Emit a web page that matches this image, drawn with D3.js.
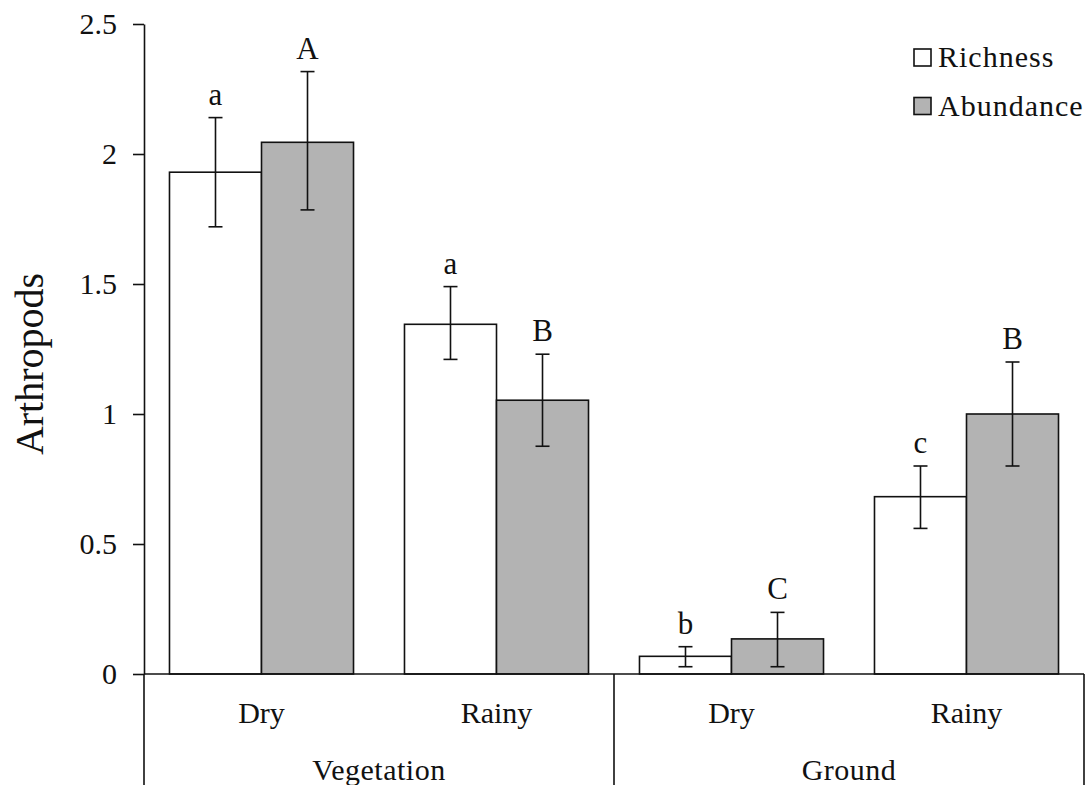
<!DOCTYPE html>
<html>
<head>
<meta charset="utf-8">
<script src="https://cdn.jsdelivr.net/npm/d3@7"></script>
<style>
  body { margin: 0; background: #fff; }
  svg { display: block; }
  svg text { font-family: "Liberation Serif", "Times New Roman", serif; }
</style>
</head>
<body>
<svg id="chart" width="1088" height="785"></svg>
<script>
// DATA
const groups = ["Vegetation", "Ground"];
const categories = ["Dry", "Rainy", "Dry", "Rainy"];
const categoryGroup = ["Vegetation", "Vegetation", "Ground", "Ground"];
const series = ["Richness", "Abundance"];

const richness = [1.93, 1.345, 0.068, 0.682];
const richnessHigh = [2.14, 1.49, 0.105, 0.80];
const richnessLow = [1.72, 1.21, 0.028, 0.56];
const richnessLetters = ["a", "a", "b", "c"];

const abundance = [2.045, 1.053, 0.135, 1.0];
const abundanceHigh = [2.317, 1.23, 0.237, 1.2];
const abundanceLow = [1.785, 0.876, 0.028, 0.80];
const abundanceLetters = ["A", "B", "C", "B"];

const yTicks = [0, 0.5, 1, 1.5, 2, 2.5];
const yTitle = "Arthropods";

// LAYOUT
const plotLeft = 144, plotRight = 1084, plotTop = 24, plotBottom = 674, frameBottom = 785;
const fills = { Richness: "#ffffff", Abundance: "#b3b3b3" };
const ink = "#111";

const svg = d3.select("#chart");

// SCALES
const keys = categories.map((c, i) => categoryGroup[i] + "-" + c);
const x0 = d3.scaleBand().domain(keys).range([plotLeft, plotRight]).padding(0);
const x1 = d3.scaleBand().domain(series).range([0, x0.bandwidth()])
    .paddingInner(0).paddingOuter(0.277);
const y = d3.scaleLinear().domain([0, 2.5]).range([plotBottom, plotTop]);

// ROWS: one per bar
const rows = [];
keys.forEach((k, i) => {
    rows.push({ key: k, s: "Richness", v: richness[i], hi: richnessHigh[i], lo: richnessLow[i], letter: richnessLetters[i] });
    rows.push({ key: k, s: "Abundance", v: abundance[i], hi: abundanceHigh[i], lo: abundanceLow[i], letter: abundanceLetters[i] });
});
const cx = d => x0(d.key) + x1(d.s) + x1.bandwidth() / 2;

// BARS
svg.append("g").selectAll("rect").data(rows).join("rect")
    .attr("x", d => x0(d.key) + x1(d.s))
    .attr("y", d => y(d.v))
    .attr("width", x1.bandwidth())
    .attr("height", d => y(0) - y(d.v))
    .attr("fill", d => fills[d.s])
    .attr("stroke", ink)
    .attr("stroke-width", 1.6);

// ERROR BARS
const err = svg.append("g").attr("stroke", ink).attr("stroke-width", 1.6);
err.selectAll("line.stem").data(rows).join("line").attr("class", "stem")
    .attr("x1", cx).attr("x2", cx)
    .attr("y1", d => y(d.hi)).attr("y2", d => y(d.lo));
err.selectAll("line.capHi").data(rows).join("line").attr("class", "capHi")
    .attr("x1", d => cx(d) - 7).attr("x2", d => cx(d) + 7)
    .attr("y1", d => y(d.hi)).attr("y2", d => y(d.hi));
err.selectAll("line.capLo").data(rows).join("line").attr("class", "capLo")
    .attr("x1", d => cx(d) - 7).attr("x2", d => cx(d) + 7)
    .attr("y1", d => y(d.lo)).attr("y2", d => y(d.lo));

// SIGNIFICANCE LETTERS
svg.append("g").selectAll("text").data(rows).join("text")
    .attr("x", cx)
    .attr("y", d => y(d.hi) - 13)
    .attr("text-anchor", "middle")
    .attr("font-size", 31)
    .attr("fill", ink)
    .text(d => d.letter);

// Y AXIS
const yAxis = svg.append("g")
    .attr("transform", `translate(${plotLeft},0)`)
    .call(d3.axisLeft(y).tickValues(yTicks).tickFormat(d3.format("~g"))
        .tickSize(11).tickSizeOuter(0).tickPadding(16));
yAxis.selectAll("path, line").attr("stroke", ink).attr("stroke-width", 1.6);
yAxis.selectAll("text").attr("font-size", 30).attr("fill", ink);

svg.append("text")
    .attr("transform", "translate(43,364) rotate(-90)")
    .attr("text-anchor", "middle")
    .attr("font-size", 40)
    .attr("fill", ink)
    .text(yTitle);

// CATEGORY FRAME BELOW THE BARS
const frame = svg.append("g").attr("stroke", ink).attr("stroke-width", 1.6);
frame.append("line").attr("x1", plotLeft).attr("x2", plotRight).attr("y1", y(0)).attr("y2", y(0));
const bounds = [plotLeft, x0(keys[2]), plotRight];
frame.selectAll("line.sep").data(bounds).join("line").attr("class", "sep")
    .attr("x1", d => d).attr("x2", d => d)
    .attr("y1", y(0)).attr("y2", frameBottom);

svg.append("g").selectAll("text").data(keys).join("text")
    .attr("x", k => x0(k) + x0.bandwidth() / 2)
    .attr("y", 723)
    .attr("text-anchor", "middle")
    .attr("font-size", 30)
    .attr("fill", ink)
    .text((k, i) => categories[i]);

svg.append("g").selectAll("text").data(groups).join("text")
    .attr("x", g => {
        const ks = keys.filter((k, i) => categoryGroup[i] === g);
        return (x0(ks[0]) + x0(ks[ks.length - 1]) + x0.bandwidth()) / 2;
    })
    .attr("y", 780)
    .attr("text-anchor", "middle")
    .attr("font-size", 30)
    .attr("letter-spacing", 0.5)
    .attr("fill", ink)
    .text(g => g);

// LEGEND
const legend = svg.append("g").attr("transform", "translate(914,49)");
const item = legend.selectAll("g").data(series).join("g")
    .attr("transform", (d, i) => `translate(0,${i * 48.5})`);
item.append("rect")
    .attr("width", 17).attr("height", 17)
    .attr("fill", d => fills[d])
    .attr("stroke", ink).attr("stroke-width", 1.6);
item.append("text")
    .attr("x", 24).attr("y", 18)
    .attr("font-size", 30)
    .attr("letter-spacing", 1)
    .attr("fill", ink)
    .text(d => d);
</script>
</body>
</html>
